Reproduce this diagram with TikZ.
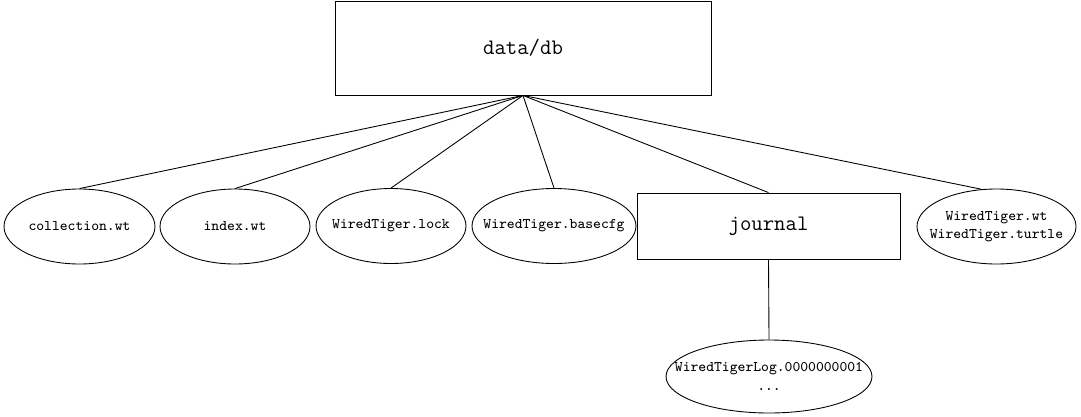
\documentclass[tikz,border=0pt]{standalone}
\usetikzlibrary{shapes.geometric}

\begin{document}
\begin{tikzpicture}[
    x=0.02cm, y=-0.02cm,
    folder/.style={draw, rectangle, line width=0.5pt, inner sep=0pt, font=\ttfamily\fontsize{12.6}{15}\selectfont},
    file/.style={draw, ellipse, line width=0.5pt, inner sep=-1cm, minimum height=1.5cm, align=center, font=\ttfamily\fontsize{8.4}{10.5}\selectfont},
    link/.style={line width=0.5pt}
]
    \useasboundingbox (0,0) rectangle (1081,416);

    \node[folder, minimum width=7.52cm, minimum height=1.88cm] (db) at (523, 48) {data/db};

    \node[file, minimum width=3.02cm] (coll) at (79.5, 226.5) {collection.wt};
    \node[file, minimum width=3.0cm] (idx) at (235, 226.5) {index.wt};
    \node[file, minimum width=3.0cm] (lock) at (391, 226) {WiredTiger.lock};
    \node[file, minimum width=3.28cm] (basecfg) at (554, 226) {WiredTiger.basecfg};
    \node[folder, minimum width=5.26cm, minimum height=1.32cm] (journal) at (768.5, 226) {journal};
    \node[file, minimum width=3.18cm] (wt) at (996.5, 226.5) {WiredTiger.wt\\WiredTiger.turtle};
    \node[file, minimum width=4.12cm, minimum height=1.46cm] (log) at (769, 376.5) {WiredTigerLog.0000000001\\...};

    \draw[link] (db.south) -- (coll.north);
    \draw[link] (db.south) -- (idx.north);
    \draw[link] (db.south) -- (lock.north);
    \draw[link] (db.south) -- (basecfg.north);
    \draw[link] (db.south) -- (journal.north);
    \draw[link] (db.south) -- (wt.112);
    \draw[link] (journal.south) -- (log.north);
\end{tikzpicture}
\end{document}
